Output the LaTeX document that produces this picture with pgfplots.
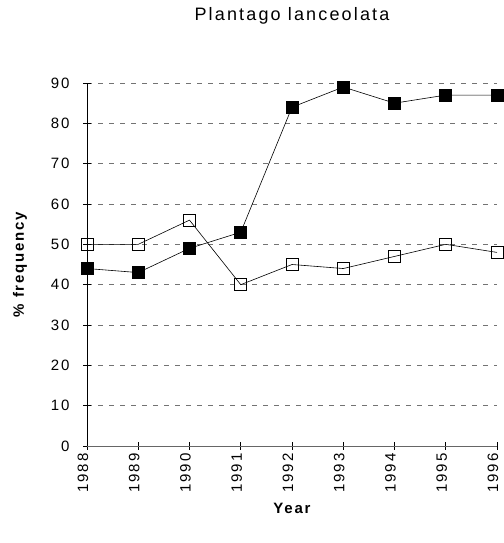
\documentclass[border=0pt]{standalone}
\usepackage{pgfplots}
\pgfplotsset{compat=1.18}
\usepackage{fontspec}
\setmainfont[LetterSpace=12]{Liberation Sans}

\begin{document}
\begin{tikzpicture}
\begin{axis}[
    scale only axis,
    width=410pt, height=363pt,
    xmin=1988, xmax=1996,
    ymin=0, ymax=90,
    xtick={1988,1989,...,1996},
    ytick={0,10,...,90},
    axis x line*=bottom,
    axis y line*=left,
    x axis line style={draw=black!60, line width=0.6pt},
    y axis line style={draw=black, line width=0.9pt},
    tick align=center,
    major tick length=8pt,
    tick style={black, line width=0.6pt},
    ymajorgrids=true,
    major grid style={draw=black!55, line width=0.6pt, dash pattern=on 5pt off 6pt},
    /pgf/number format/assume math mode=true,
    /pgf/number format/1000 sep={},
    tick label style={font=\fontsize{15}{17}\selectfont},
    xticklabel style={rotate=90, anchor=east, yshift=4pt},
    yticklabel style={xshift=-10pt},
    title={Plantago lanceolata},
    title style={font=\fontsize{18}{20}\selectfont, at={(axis description cs:0.5,1)}, anchor=center, yshift=61pt},
    xlabel={Year},
    xlabel style={font=\fontsize{15}{17}\selectfont\bfseries, at={(axis description cs:0.5,0)}, anchor=center, yshift=-62pt},
    ylabel={\% frequency},
    ylabel style={font=\fontsize{15}{17}\selectfont\bfseries, at={(axis description cs:0,0.5)}, anchor=center, rotate=0, yshift=67pt},
]
    % open squares
    \addplot[black, line width=0.6pt, mark=square, mark size=6pt, mark options={fill=white, line width=0.8pt}] coordinates {
        (1988, 50) (1989, 50) (1990, 56) (1991, 40) (1992, 45)
        (1993, 44) (1994, 47) (1995, 50) (1996, 48)
    };
    % filled squares
    \addplot[black, line width=0.6pt, mark=square*, mark size=6pt, mark options={fill=black}] coordinates {
        (1988, 44) (1989, 43) (1990, 49) (1991, 53) (1992, 84)
        (1993, 89) (1994, 85) (1995, 87) (1996, 87)
    };
\end{axis}
\pgfresetboundingbox
\path ([shift={(-87pt,83pt)}]current axis.north west) rectangle ([shift={(6pt,-97pt)}]current axis.south east);
\end{tikzpicture}
\end{document}
